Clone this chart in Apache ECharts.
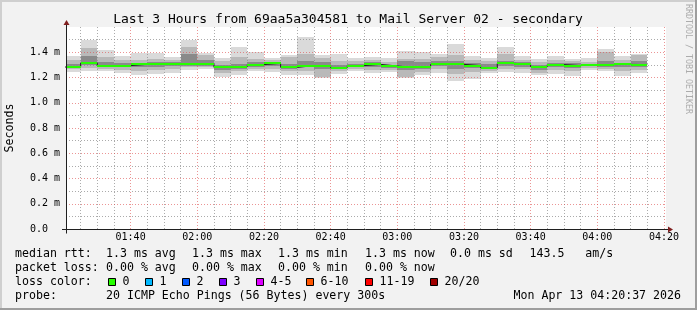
<!DOCTYPE html>
<html><head><meta charset="utf-8">
<script src="https://cdn.jsdelivr.net/npm/echarts@6/dist/echarts.min.js"></script>
<style>html,body{margin:0;padding:0;background:#f2f2f2}#c{width:697px;height:310px}</style>
</head><body><div id="c"></div>
<script>
// ---- data (milliseconds) ----
const barStarts = ['01:20','01:25','01:30','01:35','01:40','01:45','01:50','01:55','02:00','02:05','02:10','02:15','02:20','02:25','02:30','02:35','02:40','02:45','02:50','02:55','03:00','03:05','03:10','03:15','03:20','03:25','03:30','03:35','03:40','03:45','03:50','03:55','04:00','04:05','04:10'];
const pingMax = [1.37,1.497,1.418,1.37,1.396,1.396,1.365,1.497,1.396,1.352,1.444,1.402,1.352,1.378,1.518,1.378,1.386,1.352,1.365,1.352,1.412,1.404,1.39,1.465,1.37,1.352,1.444,1.37,1.344,1.37,1.344,1.352,1.425,1.37,1.386];
const pingHi2 = [1.335,1.43,1.36,1.34,1.34,1.35,1.34,1.44,1.375,1.33,1.36,1.345,1.335,1.365,1.39,1.355,1.33,1.33,1.34,1.32,1.35,1.35,1.365,1.38,1.34,1.33,1.39,1.335,1.32,1.34,1.33,1.325,1.40,1.335,1.38];
const pingHi1 = [1.31,1.37,1.32,1.315,1.315,1.325,1.32,1.39,1.34,1.30,1.31,1.32,1.325,1.31,1.33,1.32,1.30,1.31,1.32,1.30,1.33,1.32,1.33,1.33,1.315,1.31,1.33,1.32,1.30,1.315,1.315,1.31,1.33,1.315,1.33];
const medianRtt = [1.283,1.316,1.291,1.294,1.304,1.304,1.304,1.31,1.31,1.28,1.286,1.302,1.312,1.28,1.294,1.294,1.278,1.294,1.304,1.291,1.28,1.286,1.304,1.304,1.294,1.275,1.312,1.307,1.286,1.302,1.294,1.302,1.302,1.304,1.302];
const pingLo1 = [1.275,1.30,1.28,1.28,1.285,1.28,1.29,1.295,1.295,1.26,1.27,1.285,1.29,1.27,1.28,1.27,1.265,1.28,1.285,1.275,1.26,1.27,1.29,1.27,1.275,1.265,1.295,1.285,1.26,1.285,1.275,1.29,1.28,1.285,1.285];
const pingLo2 = [1.265,1.275,1.268,1.258,1.255,1.26,1.27,1.28,1.28,1.235,1.25,1.27,1.27,1.25,1.255,1.205,1.25,1.265,1.26,1.26,1.205,1.245,1.27,1.225,1.24,1.25,1.27,1.265,1.235,1.26,1.25,1.275,1.265,1.25,1.26];
const pingMin = [1.246,1.254,1.254,1.238,1.22,1.228,1.238,1.259,1.264,1.206,1.22,1.254,1.246,1.22,1.22,1.20,1.228,1.254,1.233,1.246,1.199,1.22,1.233,1.175,1.188,1.233,1.246,1.233,1.22,1.225,1.212,1.259,1.254,1.212,1.238];
const stepMinutes = 5;
const startTime = '01:20:37';
const endTime = '04:20:37';
const xMajorTicks = ['01:40','02:00','02:20','02:40','03:00','03:20','03:40','04:00','04:20'];
const xMinorTicks = ['01:25','01:30','01:35','01:45','01:50','01:55','02:05','02:10','02:15','02:25','02:30','02:35','02:45','02:50','02:55','03:05','03:10','03:15','03:25','03:30','03:35','03:45','03:50','03:55','04:05','04:10','04:15'];
const yMajorTicks = [0,0.2,0.4,0.6,0.8,1.0,1.2,1.4];
const yMinorTicks = [0.1,0.3,0.5,0.7,0.9,1.1,1.3,1.5];
const yMax = 1.6;
const lossLabels = ['0','1','2','3','4-5','6-10','11-19','20/20'];
const lossColors = ['#26ff00','#00b8ff','#0059ff','#7e00ff','#dd00ff','#ff5500','#ff0000','#a10000'];

// ---- helpers ----
function toMin(s){const p=s.split(':').map(Number);return p[0]*60+p[1]+(p[2]||0)/60;}
function pad(n){return (n<10?'0':'')+n;}
const X_MIN = toMin(startTime), X_MAX = toMin(endTime);
const starts = barStarts.map(toMin);
const ends = starts.map(t=>t+stepMinutes);

const MONO = '"DejaVu Sans Mono"';
const GRID = {left:66, top:27, width:600, height:202};

function bandData(lo, hi){return starts.map((t,i)=>[t, ends[i], lo[i], hi[i]]);}
function bandRender(color){
  return function(params, api){
    const t0 = Math.max(api.value(0), X_MIN);
    const p0 = api.coord([t0, api.value(3)]);
    const p1 = api.coord([api.value(1), api.value(2)]);
    const x0 = Math.round(p0[0]), x1 = Math.round(p1[0]);
    const y0 = Math.round(p0[1]), y1 = Math.round(p1[1]);
    return {type:'rect', shape:{x:x0, y:y0, width:x1-x0, height:Math.max(1,y1-y0)}, style:{fill:color}};
  };
}
function bandSeries(lo, hi, color, z){
  return {type:'custom', renderItem:bandRender(color), data:bandData(lo,hi), encode:{x:[0,1], y:[2,3]}, z:z, silent:true, animation:false};
}

const stepLine = starts.map((t,i)=>[t, medianRtt[i]]);
stepLine.push([ends[ends.length-1], medianRtt[medianRtt.length-1]]);

// ---- text / legend ----
function T(text, x, y, extra){
  const st = Object.assign({text:text, fill:'#000', font:'11.6px '+MONO, align:'left', verticalAlign:'middle', textAlign:'left', textVerticalAlign:'middle'}, extra||{});
  return {type:'text', x:x, y:y, silent:true, z:20, style:st};
}
const colX = [106, 192, 278, 365, 450, 529.5];
const rowY = [253.8, 267.8, 281.8, 295.8];
const g = [];
// frame
g.push({type:'rect', shape:{x:0,y:0,width:697,height:2}, style:{fill:'#cfcfcf'}, z:20, silent:true});
g.push({type:'rect', shape:{x:0,y:0,width:2,height:310}, style:{fill:'#cfcfcf'}, z:20, silent:true});
g.push({type:'rect', shape:{x:0,y:308,width:697,height:2}, style:{fill:'#9e9e9e'}, z:21, silent:true});
g.push({type:'rect', shape:{x:695,y:0,width:2,height:310}, style:{fill:'#9e9e9e'}, z:21, silent:true});
// title
g.push(T('Last 3 Hours from 69aa5a304581 to Mail Server 02 - secondary', 348, 19.5, {font:'13px '+MONO, align:'center', textAlign:'center'}));
// y name
g.push(Object.assign(T('Seconds', 10, 128, {align:'center', textAlign:'center'}), {rotation:Math.PI/2}));
// watermark
g.push(Object.assign(T('RRDTOOL / TOBI OETIKER', 688, 59, {font:'8.3px '+MONO, fill:'#acacac', align:'center', textAlign:'center'}), {rotation:-Math.PI/2}));
// axes lines + arrows
const gx0 = GRID.left + 0.5, gyb = GRID.top + GRID.height + 0.5, gxr = GRID.left + GRID.width;
g.push({type:'line', shape:{x1:gx0, y1:gyb+4, x2:gx0, y2:GRID.top-3}, style:{stroke:'#1f1f1f', lineWidth:1}, z:15, silent:true});
g.push({type:'line', shape:{x1:GRID.left-4, y1:gyb, x2:gxr+3, y2:gyb}, style:{stroke:'#1f1f1f', lineWidth:1}, z:15, silent:true});
g.push({type:'polygon', shape:{points:[[gx0,GRID.top-7],[gx0-3,GRID.top-2],[gx0+3,GRID.top-2]]}, style:{fill:'#801f1f'}, z:16, silent:true});
g.push({type:'polygon', shape:{points:[[gxr+7,gyb],[gxr+2,gyb-3],[gxr+2,gyb+3]]}, style:{fill:'#801f1f'}, z:16, silent:true});
// legend rows
g.push(T('median rtt:', 15, rowY[0]));
g.push(T('1.3 ms avg', colX[0], rowY[0]));
g.push(T('1.3 ms max', colX[1], rowY[0]));
g.push(T('1.3 ms min', colX[2], rowY[0]));
g.push(T('1.3 ms now', colX[3], rowY[0]));
g.push(T('0.0 ms sd', colX[4], rowY[0]));
g.push(T('143.5   am/s', colX[5], rowY[0]));
g.push(T('packet loss:', 15, rowY[1]));
g.push(T('0.00 % avg', colX[0], rowY[1]));
g.push(T('0.00 % max', colX[1], rowY[1]));
g.push(T('0.00 % min', colX[2], rowY[1]));
g.push(T('0.00 % now', colX[3], rowY[1]));
g.push(T('loss color:', 15, rowY[2]));
const swX = [108.5,145.5,182.5,219.5,256.5,306.5,365.5,430.5];
lossLabels.forEach((lab,i)=>{
  g.push({type:'rect', shape:{x:swX[i], y:278.5, width:7, height:7}, style:{fill:lossColors[i], stroke:'#000', lineWidth:1}, z:20, silent:true});
  g.push(T(lab, swX[i]+14, rowY[2]));
});
g.push(T('probe:', 15, rowY[3]));
g.push(T('20 ICMP Echo Pings (56 Bytes) every 300s', colX[0], rowY[3]));
g.push(T('Mon Apr 13 04:20:37 2026', 681, rowY[3], {align:'right', textAlign:'right'}));

// ---- chart ----
const chart = echarts.init(document.getElementById('c'), null, {renderer:'canvas'});
const xMaj = xMajorTicks.map(toMin), xMin = xMinorTicks.map(toMin);
const majorLine = {show:true, lineStyle:{color:'rgba(222,79,79,0.6)', width:1, type:[1,2]}};
const minorLine = {show:true, lineStyle:{color:'rgba(143,143,143,0.75)', width:1, type:[1,2]}};
chart.setOption({
  animation:false,
  backgroundColor:'#f2f2f2',
  grid:{left:GRID.left, top:GRID.top, width:GRID.width, height:GRID.height, show:true, backgroundColor:'#ffffff', borderWidth:0, containLabel:false},
  xAxis:[
    {type:'value', min:X_MIN, max:X_MAX, position:'bottom', z:4,
     axisLine:{show:false}, axisTick:{show:false, customValues:xMaj},
     axisLabel:{customValues:xMaj, margin:3, fontFamily:'DejaVu Sans Mono', fontSize:10, color:'#000',
       formatter:function(v){const m=Math.round(v);return pad(Math.floor(m/60))+':'+pad(m%60);}},
     splitLine:majorLine},
    {type:'value', min:X_MIN, max:X_MAX, position:'top', z:3,
     axisLine:{show:false}, axisTick:{show:false, customValues:xMin}, axisLabel:{show:false},
     splitLine:minorLine}
  ],
  yAxis:[
    {type:'value', min:0, max:yMax, position:'left', z:4,
     axisLine:{show:false}, axisTick:{show:false, customValues:yMajorTicks.filter(v=>v>0)},
     axisLabel:{customValues:yMajorTicks, align:'left', margin:36, fontFamily:'DejaVu Sans Mono', fontSize:10, color:'#000',
       formatter:function(v){return v===0?'0.0':v.toFixed(1)+' m';}},
     splitLine:majorLine},
    {type:'value', min:0, max:yMax, position:'right', z:3,
     axisLine:{show:false}, axisTick:{show:false, customValues:yMinorTicks}, axisLabel:{show:false},
     splitLine:minorLine}
  ],
  series:[
    bandSeries(pingMin, pingMax, '#dadada', 1),
    bandSeries(pingLo2, pingHi2, '#b9b9b9', 1),
    bandSeries(pingLo1, pingHi1, '#8a8a8a', 1),
    {type:'line', data:stepLine, step:'end', symbol:'none', lineStyle:{color:'#202020', width:1}, z:6, silent:true, animation:false, clip:true},
    {type:'custom', z:7, silent:true, animation:false, data:starts.map((t,i)=>[t, ends[i], medianRtt[i]]), encode:{x:[0,1], y:2},
     renderItem:function(params, api){
       const t0 = Math.max(api.value(0), X_MIN);
       const p0 = api.coord([t0, api.value(2)]);
       const p1 = api.coord([api.value(1), api.value(2)]);
       const x0 = Math.round(p0[0]), x1 = Math.round(p1[0]);
       const y = Math.round(p0[1]);
       return {type:'rect', shape:{x:x0, y:y-1, width:x1-x0, height:2}, style:{fill:lossColors[0]}};
     }}
  ],
  graphic:{elements:g}
});
</script></body></html>
